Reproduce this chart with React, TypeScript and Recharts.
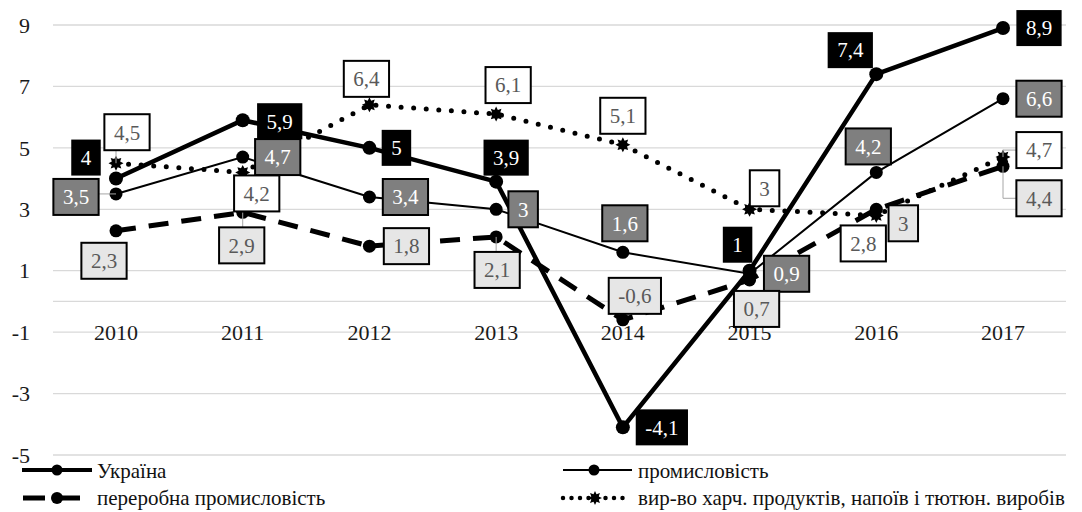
import React from 'react';
import {
  LineChart,
  Line,
  XAxis,
  YAxis,
  CartesianGrid,
  ReferenceLine,
  LabelList,
  Legend,
} from 'recharts';

// ---- data ----
const years = ['2010', '2011', '2012', '2013', '2014', '2015', '2016', '2017'];
const ukraine = [4, 5.9, 5, 3.9, -4.1, 1, 7.4, 8.9];
const industry = [3.5, 4.7, 3.4, 3, 1.6, 0.9, 4.2, 6.6];
const processing = [2.3, 2.9, 1.8, 2.1, -0.6, 0.7, 3, 4.4];
const food = [4.5, 4.2, 6.4, 6.1, 5.1, 3, 2.8, 4.7];
const yTicks = [-5, -3, -1, 1, 3, 5, 7, 9];

const names = {
  ukraine: 'Україна',
  industry: 'промисловість',
  processing: 'переробна промисловість',
  food: 'вир-во харч. продуктів, напоїв і тютюн. виробів',
};

const data = years.map((year, i) => ({
  year,
  ukraine: ukraine[i],
  industry: industry[i],
  processing: processing[i],
  food: food[i],
}));

// ---- label placement (box centre offset from the point, px) ----
const ukraineLabelPos = [[-30, -21], [37, 1], [27, 0], [10, -24], [39, 0], [-12, -26], [-26, -24], [36, 0]];
const industryLabelPos = [[-40, 3], [35, 0], [36, 0], [27, 0], [2, -29], [37, 0], [-8, -26], [36, 0]];
const processingLabelPos = [[-12, 30], [-1, 33], [37, 0], [1, 33], [12, -24], [7, 29], [27, 14], [36, 32]];
const foodLabelPos = [[11, -31], [14, 21], [-3, -26], [12, -29], [0, -29], [15, -21], [-13, 28], [36, -7]];

// leader lines: 0 none, 1 straight, 2 elbow
const ukraineLeaders = [0, 0, 0, 0, 0, 0, 0, 0];
const industryLeaders = [1, 0, 0, 0, 0, 0, 0, 0];
const processingLeaders = [0, 1, 0, 1, 0, 0, 0, 2];
const foodLeaders = [1, 0, 0, 0, 0, 0, 0, 2];

const FONT = "'Liberation Serif', 'Times New Roman', Tinos, 'DejaVu Serif', serif";
const LABEL_SIZE = 21;

const fmt = (v: number) => String(v).replace('.', ',');
const textWidth = (s: string) => {
  let w = 0;
  for (const c of s) w += c === ',' ? 0.25 : c === '-' ? 0.333 : 0.5;
  return w * LABEL_SIZE;
};

type BoxStyle = { fill: string; stroke: string; strokeWidth: number; color: string };

const ukraineBox: BoxStyle = { fill: '#000000', stroke: 'none', strokeWidth: 0, color: '#ffffff' };
const industryBox: BoxStyle = { fill: '#7f7f7f', stroke: '#000000', strokeWidth: 2, color: '#ffffff' };
const processingBox: BoxStyle = { fill: '#e6e6e6', stroke: '#000000', strokeWidth: 2, color: '#595959' };
const foodBox: BoxStyle = { fill: '#ffffff', stroke: '#000000', strokeWidth: 2, color: '#595959' };

function makeLabel(style: BoxStyle, pos: number[][], leaders: number[]) {
  return (props: any) => {
    const { x, y, value, index } = props;
    if (x == null || y == null || value == null) return null;
    const [dx, dy] = pos[index] || [0, -25];
    const s = fmt(value);
    const w = Math.max(27, textWidth(s) + 19);
    const h = 36;
    const cx = x + dx;
    const cy = y + dy;
    const left = cx - w / 2;
    const top = cy - h / 2;
    let leader: React.ReactNode = null;
    const kind = leaders[index] || 0;
    if (kind === 1) {
      const ex = Math.min(Math.max(x, left), left + w);
      const ey = Math.min(Math.max(y, top), top + h);
      leader = <line x1={x} y1={y} x2={ex} y2={ey} stroke="#a6a6a6" strokeWidth={1} />;
    } else if (kind === 2) {
      leader = (
        <path d={`M${x},${y} L${x},${cy} L${left},${cy}`} fill="none" stroke="#a6a6a6" strokeWidth={1} />
      );
    }
    return (
      <g>
        {leader}
        <rect x={left} y={top} width={w} height={h} fill={style.fill} stroke={style.stroke} strokeWidth={style.strokeWidth} />
        <text
          x={cx}
          y={cy}
          dy="0.35em"
          textAnchor="middle"
          style={{ fontFamily: FONT, fontSize: LABEL_SIZE }}
          fill={style.color}
        >
          {s}
        </text>
      </g>
    );
  };
}

// ---- markers ----
const starPoints = (cx: number, cy: number, ro: number, ri: number, n: number) => {
  const pts: string[] = [];
  for (let i = 0; i < n * 2; i++) {
    const r = i % 2 === 0 ? ro : ri;
    const a = (Math.PI * i) / n - Math.PI / 2;
    pts.push(`${cx + r * Math.cos(a)},${cy + r * Math.sin(a)}`);
  }
  return pts.join(' ');
};

const CircleDot = (r: number) => (props: any) => {
  const { cx, cy, index } = props;
  if (cx == null || cy == null) return <g key={index} />;
  return <circle key={index} cx={cx} cy={cy} r={r} fill="#000" />;
};

const StarDot = (props: any) => {
  const { cx, cy, index } = props;
  if (cx == null || cy == null) return <g key={index} />;
  return <polygon key={index} points={starPoints(cx, cy, 7.5, 4.5, 8)} fill="#000" />;
};

// ---- axis ticks ----
const YearTick = (props: any) => {
  const { x, y, payload } = props;
  return (
    <text x={x} y={y - 115} textAnchor="middle" style={{ fontFamily: FONT, fontSize: 22 }} fill="#1a1a1a">
      {payload.value}
    </text>
  );
};

const ValueTick = (props: any) => {
  const { x, y, payload } = props;
  return (
    <text x={x} y={y} dy="0.35em" textAnchor="end" style={{ fontFamily: FONT, fontSize: 22 }} fill="#1a1a1a">
      {payload.value}
    </text>
  );
};

// ---- legend ----
const legendText = { fontFamily: FONT, fontSize: 21 };
const LegendContent = () => (
  <svg width={1082} height={56} style={{ display: 'block' }}>
    {/* Україна */}
    <line x1={22} y1={14} x2={92} y2={14} stroke="#000" strokeWidth={4} />
    <circle cx={57} cy={14} r={5.5} fill="#000" />
    <text x={97} y={22} style={legendText} fill="#111">{names.ukraine}</text>
    {/* промисловість */}
    <line x1={563} y1={14} x2={632} y2={14} stroke="#000" strokeWidth={2} />
    <circle cx={594} cy={14} r={5.5} fill="#000" />
    <text x={638} y={22} style={legendText} fill="#111">{names.industry}</text>
    {/* переробна промисловість */}
    <line x1={23} y1={42} x2={91} y2={42} stroke="#000" strokeWidth={5} strokeDasharray="22 13" />
    <circle cx={57} cy={42} r={6} fill="#000" />
    <text x={97} y={49} style={legendText} fill="#111">{names.processing}</text>
    {/* food */}
    <line x1={563} y1={42} x2={630} y2={42} stroke="#000" strokeWidth={4.5} strokeDasharray="0 8.5" strokeLinecap="round" />
    <polygon points={starPoints(595, 42, 7, 4, 8)} fill="#000" />
    <text x={638} y={49} style={legendText} fill="#111">{names.food}</text>
  </svg>
);

export default function App() {
  return (
    <div style={{ position: 'absolute', left: 0, top: 0, width: 1082, height: 512, background: '#fff', fontFamily: FONT }}>
      <LineChart width={1082} height={512} data={data} margin={{ top: 25, right: 16, bottom: 0, left: 0 }}>
        <CartesianGrid horizontal vertical={false} stroke="#d9d9d9" strokeWidth={1.3} />
        <ReferenceLine y={0} stroke="#d9d9d9" strokeWidth={1.3} />
        <XAxis
          dataKey="year"
          height={1}
          padding={{ left: 63, right: 63 }}
          axisLine={false}
          tickLine={false}
          tickSize={0}
          tickMargin={0}
          interval={0}
          tick={<YearTick />}
        />
        <YAxis
          type="number"
          domain={[-5, 9]}
          ticks={yTicks}
          width={53}
          axisLine={false}
          tickLine={false}
          tickSize={0}
          tickMargin={23}
          interval={0}
          tick={<ValueTick />}
        />
        <Legend
          verticalAlign="bottom"
          align="left"
          width={1082}
          wrapperStyle={{ left: 0, bottom: 0, height: 56 }}
          content={<LegendContent />}
        />

        {/* series lines */}
        <Line
          dataKey="ukraine"
          name={names.ukraine}
          stroke="#000"
          strokeWidth={4.5}
          dot={CircleDot(7)}
          activeDot={false}
          isAnimationActive={false}
        />
        <Line
          dataKey="industry"
          name={names.industry}
          stroke="#000"
          strokeWidth={2}
          dot={CircleDot(6.5)}
          activeDot={false}
          isAnimationActive={false}
        />
        <Line
          dataKey="processing"
          name={names.processing}
          stroke="#000"
          strokeWidth={5}
          strokeDasharray="20 13"
          dot={CircleDot(6.5)}
          activeDot={false}
          isAnimationActive={false}
        />
        <Line
          dataKey="food"
          name={names.food}
          stroke="#000"
          strokeWidth={5}
          strokeDasharray="0 12.6"
          strokeLinecap="round"
          dot={StarDot}
          activeDot={false}
          isAnimationActive={false}
        />

        {/* data labels, drawn above every line */}
        <Line dataKey="ukraine" stroke="none" dot={false} activeDot={false} legendType="none" isAnimationActive={false}>
          <LabelList dataKey="ukraine" content={makeLabel(ukraineBox, ukraineLabelPos, ukraineLeaders)} />
        </Line>
        <Line dataKey="industry" stroke="none" dot={false} activeDot={false} legendType="none" isAnimationActive={false}>
          <LabelList dataKey="industry" content={makeLabel(industryBox, industryLabelPos, industryLeaders)} />
        </Line>
        <Line dataKey="processing" stroke="none" dot={false} activeDot={false} legendType="none" isAnimationActive={false}>
          <LabelList dataKey="processing" content={makeLabel(processingBox, processingLabelPos, processingLeaders)} />
        </Line>
        <Line dataKey="food" stroke="none" dot={false} activeDot={false} legendType="none" isAnimationActive={false}>
          <LabelList dataKey="food" content={makeLabel(foodBox, foodLabelPos, foodLeaders)} />
        </Line>
      </LineChart>
    </div>
  );
}
